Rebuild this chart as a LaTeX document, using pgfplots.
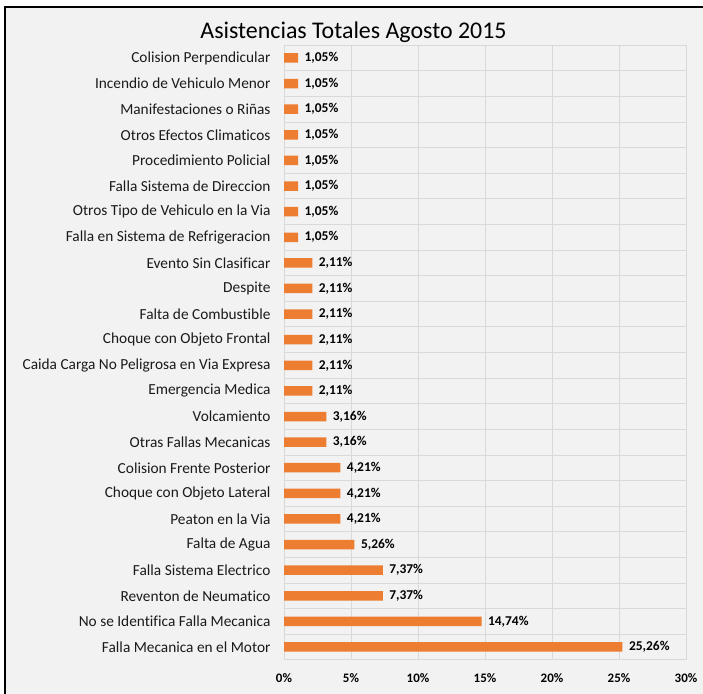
\documentclass[border=0pt]{standalone}
\usepackage{pgfplots}
\pgfplotsset{compat=1.18}
\usepackage{fontspec}
\setmainfont[Ligatures=NoCommon]{Carlito}
\definecolor{bg}{HTML}{F2F2F2}
\definecolor{gridc}{HTML}{D9D9D9}
\definecolor{barc}{HTML}{ED7D31}
\definecolor{txt}{HTML}{1A1A1A}
\begin{document}
\begin{tikzpicture}
\useasboundingbox (0bp,0bp) rectangle (703bp,694bp);
\fill[white] (0bp,0bp) rectangle (703bp,694bp);
\fill[bg] (5bp,0bp) rectangle (703bp,687bp);
\draw[black, line width=1.3bp] (5bp,0bp) -- (5bp,687bp) -- (703bp,687bp);
\node[font=\fontsize{24}{26}\selectfont, text=black] at (353.5bp,662bp) {Asistencias Totales Agosto 2015};
\begin{axis}[
  at={(284bp,34.2bp)}, anchor=south west,
  scale only axis, width=402bp, height=614.6bp,
  xbar, bar width=9.5bp,
  xmin=0, xmax=30, ymin=-0.5, ymax=23.5,
  xtick={0,5,10,15,20,25,30},
  xticklabels={0\%,5\%,10\%,15\%,20\%,25\%,30\%},
  ytick={0,...,23},
  yticklabels={Falla Mecanica en el Motor,No se Identifica Falla Mecanica,Reventon de Neumatico,Falla Sistema Electrico,Falta de Agua,Peaton en la Via,Choque con Objeto Lateral,Colision Frente Posterior,Otras Fallas Mecanicas,Volcamiento,Emergencia Medica,Caida Carga No Peligrosa en Via Expresa,Choque con Objeto Frontal,Falta de Combustible,Despite,Evento Sin Clasificar,Falla en Sistema de Refrigeracion,Otros Tipo de Vehiculo en la Via,Falla Sistema de Direccion,Procedimiento Policial,Otros Efectos Climaticos,Manifestaciones o Riñas,Incendio de Vehiculo Menor,Colision Perpendicular},
  minor ytick={-0.5,0.5,...,23.5},
  xmajorgrids=true, yminorgrids=true,
  grid style={gridc, line width=0.8bp},
  minor grid style={gridc, line width=0.8bp},
  axis line style={draw=none},
  major tick length=0pt, minor tick length=0pt,
  yticklabel style={font=\fontsize{15.4}{17}\selectfont, text=txt, xshift=-10bp},
  xticklabel style={font=\bfseries\fontsize{13}{15}\selectfont, text=black, yshift=-10bp},
  nodes near coords,
  point meta=explicit symbolic,
  every node near coord/.append style={font=\bfseries\fontsize{13.5}{15}\selectfont, text=black, anchor=west, xshift=3bp},
]
\addplot[fill=barc, draw=none] coordinates {
 (25.26,0) [25,26\%]
 (14.74,1) [14,74\%]
 (7.37,2) [7,37\%]
 (7.37,3) [7,37\%]
 (5.26,4) [5,26\%]
 (4.21,5) [4,21\%]
 (4.21,6) [4,21\%]
 (4.21,7) [4,21\%]
 (3.16,8) [3,16\%]
 (3.16,9) [3,16\%]
 (2.11,10) [2,11\%]
 (2.11,11) [2,11\%]
 (2.11,12) [2,11\%]
 (2.11,13) [2,11\%]
 (2.11,14) [2,11\%]
 (2.11,15) [2,11\%]
 (1.05,16) [1,05\%]
 (1.05,17) [1,05\%]
 (1.05,18) [1,05\%]
 (1.05,19) [1,05\%]
 (1.05,20) [1,05\%]
 (1.05,21) [1,05\%]
 (1.05,22) [1,05\%]
 (1.05,23) [1,05\%]
};
\end{axis}
\end{tikzpicture}
\end{document}
